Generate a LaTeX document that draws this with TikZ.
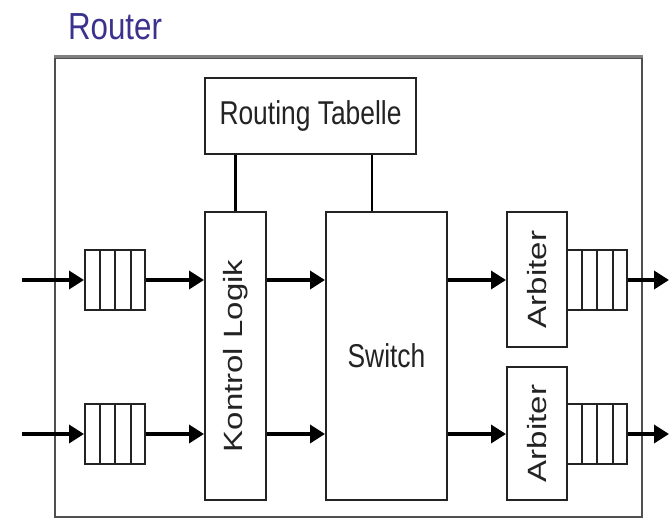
\documentclass[tikz,border=0pt]{standalone}
\usepackage{fontspec}
\setmainfont{Liberation Sans}
\usetikzlibrary{arrows.meta,calc}
\definecolor{titleblue}{RGB}{58,50,140}
\definecolor{inkgray}{RGB}{35,35,35}
\newcommand{\lbl}[1]{{\fontsize{33}{36}\selectfont\scalebox{0.8}[1]{#1}}}
\newcommand{\vlbl}[1]{\rotatebox{90}{\fontsize{33}{36}\selectfont\scalebox{1}[0.8]{#1}}}
\begin{document}
\begin{tikzpicture}[x=1pt,y=-1pt,
  block/.style={draw=inkgray,line width=2pt,fill=white,inner sep=0pt,text=inkgray},
  queue/.style={draw=inkgray,line width=2pt,minimum width=60pt,minimum height=60pt,inner sep=0pt},
  flow/.style={line width=3.5pt,draw=black,-{Triangle[length=15pt,width=18pt]}},
  link/.style={line width=2.5pt,draw=black}]
\useasboundingbox (0,0) rectangle (670,519);

% title
\node[text=titleblue,inner sep=0pt] (title) at (115,27)
  {\fontsize{37.7}{40}\selectfont\scalebox{0.83}[1]{Router}};

% router frame
\node[draw=inkgray!80,line width=2pt,minimum width=587pt,minimum height=459pt,inner sep=0pt]
  (frame) at (348.5,287.5) {};
\draw[line width=3pt,draw=gray] (frame.north west) -- (frame.north east);

% blocks
\node[block,minimum width=211pt,minimum height=76pt] (rt) at (310.5,116) {\lbl{Routing Tabelle}};
\node[block,minimum width=61pt,minimum height=288pt] (kl) at (235.5,356) {\vlbl{Kontrol Logik}};
\node[block,minimum width=121pt,minimum height=288pt] (sw) at (386.5,356) {\lbl{Switch}};
\node[block,minimum width=60pt,minimum height=135pt] (arb1) at (537,279.5) {\vlbl{Arbiter}};
\node[block,minimum width=60pt,minimum height=133pt] (arb2) at (537,433.5) {\vlbl{Arbiter}};

% queues
\node[queue] (qi1) at (115,280) {};
\node[queue] (qi2) at (115,434) {};
\node[queue] (qo1) at (597,280) {};
\node[queue] (qo2) at (597,434) {};
\foreach \q in {qi1,qi2,qo1,qo2}{
  \foreach \f in {0.25,0.5,0.75}{
    \draw[line width=2pt,draw=inkgray] ($(\q.north west)!\f!(\q.north east)$) -- ($(\q.south west)!\f!(\q.south east)$);
  }
}

% routing table links
\draw[link] (kl.north) -- (kl.north |- rt.south);
\draw[link] ([xshift=-14.5pt]sw.north) -- ([xshift=-14.5pt]sw.north |- rt.south);

% data paths
\coordinate (in1) at (22,280);
\coordinate (in2) at (22,434);
\coordinate (out1) at (669,280);
\coordinate (out2) at (669,434);
\draw[flow] (in1) -- (qi1.west);
\draw[flow] (in2) -- (qi2.west);
\draw[flow] (qi1.east) -- (qi1.east -| kl.west);
\draw[flow] (qi2.east) -- (qi2.east -| kl.west);
\draw[flow] (qi1.east -| kl.east) -- (qi1.east -| sw.west);
\draw[flow] (qi2.east -| kl.east) -- (qi2.east -| sw.west);
\draw[flow] (qi1.east -| sw.east) -- (qo1.west -| arb1.west);
\draw[flow] (qi2.east -| sw.east) -- (qo2.west -| arb2.west);
\draw[flow] (qo1.east) -- (out1);
\draw[flow] (qo2.east) -- (out2);
\end{tikzpicture}
\end{document}
